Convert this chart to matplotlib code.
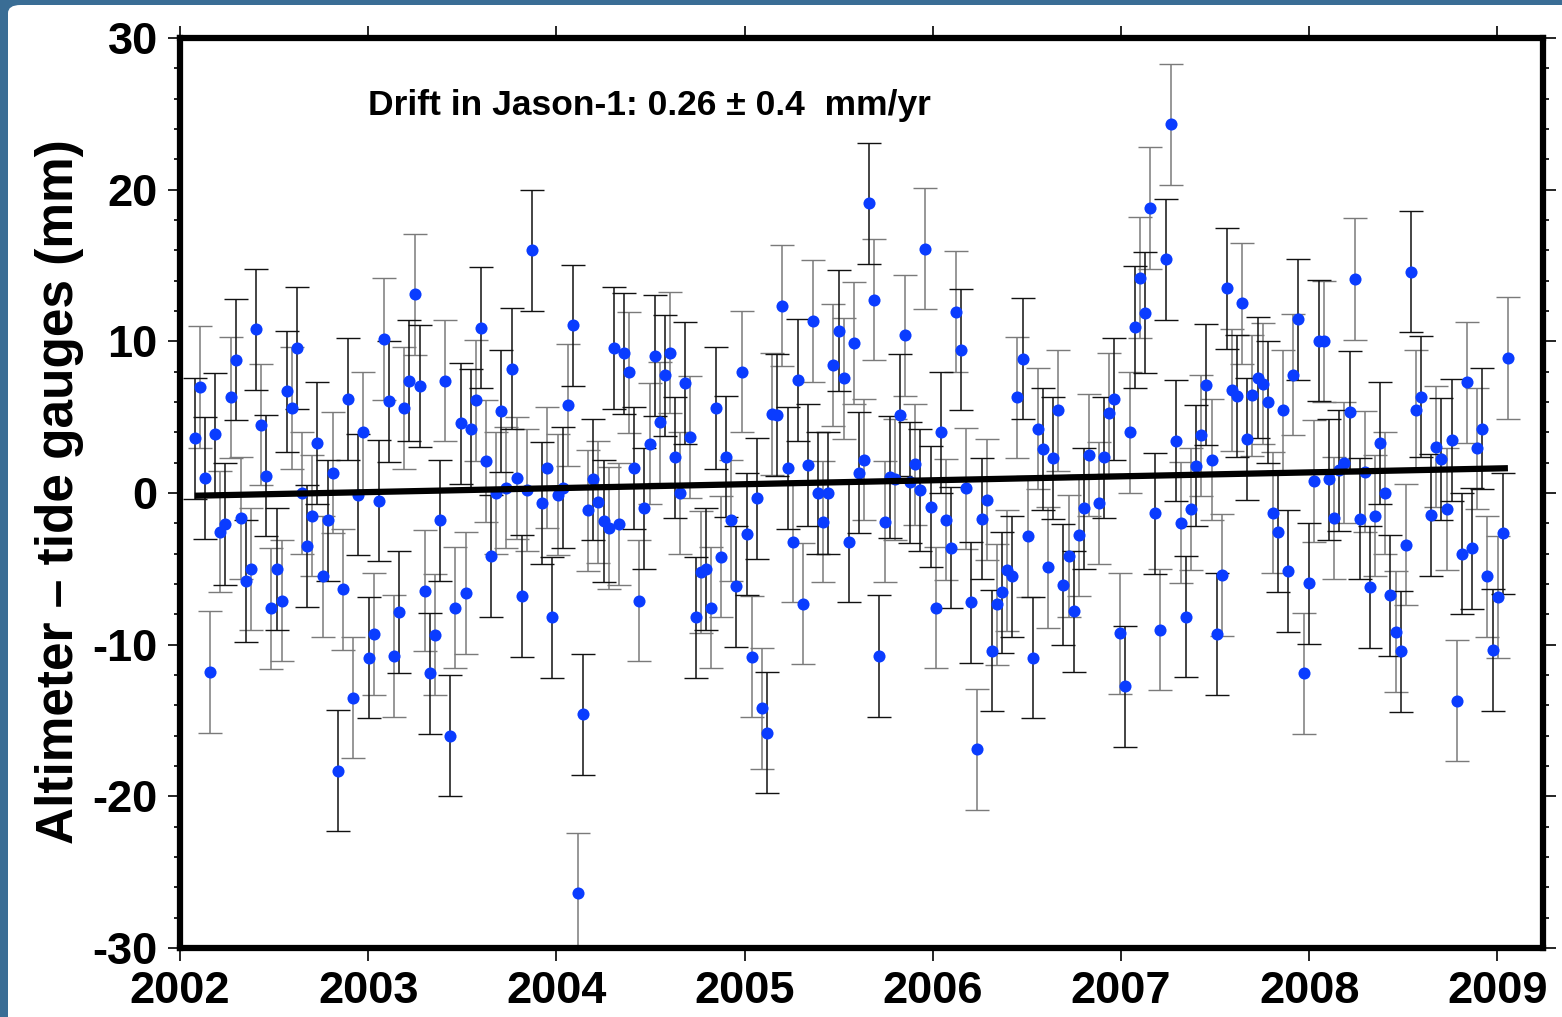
import matplotlib
matplotlib.use('Agg')
import matplotlib.pyplot as plt
import numpy as np
from matplotlib.patches import FancyBboxPatch
from matplotlib.ticker import MultipleLocator

# ---------------- data ----------------
# Jason-1 cycle numbers, four runs separated by missing cycles
cycles_a = list(range(2, 69))      # cycles 2..68
cycles_b = list(range(70, 178))    # cycles 70..177
cycles_c = list(range(179, 243))   # cycles 179..242
cycles_d = list(range(244, 260))   # cycles 244..259

# altimeter minus tide gauge differences (mm)
anom_a = [3.6, 7.0, 1.0, -11.8, 3.9, -2.55, -2.05, 6.3, 8.8, -1.65, -5.8, -5.0,
          10.8, 4.5, 1.15, -7.6, -5.0, -7.1, 6.7, 5.6, 9.55, 0.0, -3.5, -1.5,
          3.3, -5.5, -1.8, 1.35, -18.3, -6.35, 6.2, -13.5, -0.1, 4.0, -10.85,
          -9.3, -0.5,
          10.15, 6.05, -10.75, -7.85, 5.6, 7.4, 13.1, 7.05, -6.45, -11.9, -9.35,
          -1.8, 7.4, -16.0, -7.55, 4.6, -6.6, 4.2, 6.1, 10.9, 2.1, -4.15, 0.0,
          5.4, 0.35, 8.2, 1.0, -6.8, 0.2, 16.0]
anom_b = [-0.65, 1.68, -8.2, -0.1, 0.35, 5.8, 11.05, -26.4, -14.6, -1.15, 0.9, -0.6,
          -1.85, -2.3, 9.55, -2.05, 9.2, 7.95, 1.65, -7.1, -1.0, 3.25, 9.05, 4.65,
          7.75, 9.25, 2.35, 0.0, 7.25, 3.7, -8.2, -5.2, -5.0, -7.55, 5.6, -4.2,
          2.4, -1.8, -6.15, 8.0, -2.7, -10.8, -0.35,
          -14.2, -15.8, 5.2, 5.15, 12.35, 1.65, -3.2, 7.45, -7.3, 1.85, 11.35, 0.0,
          -1.9, 0.0, 8.45, 10.7, 7.55, -3.2, 9.9, 1.35, 2.2, 19.1, 12.75, -10.75,
          -1.9, 1.05, 0.9, 5.15, 10.4, 0.7, 1.9, 0.2, 16.1, -0.9, -7.55, 4.0, -1.75,
          -3.6, 11.95, 9.45, 0.3, -7.2, -16.9, -1.7, -0.45, -10.4, -7.35, -6.55,
          -5.1, -5.5, 6.3, 8.85, -2.85, -10.85, 4.25, 2.9, -4.9, 2.3, 5.45, -6.05,
          -4.15, -7.8, -2.8, -1.0, 2.5]
anom_c = [-0.65, 2.35, 5.25, 6.2, -9.25, -12.75, 4.0, 10.95, 14.2, 11.9, 18.8,
          -1.35, -9.0, 15.4, 24.3, 3.45, -1.95, -8.15, -1.05, 1.8, 3.8, 7.15, 2.2,
          -9.3, -5.4, 13.5, 6.8, 6.4, 12.5, 3.55, 6.45, 7.6, 7.2, 6.0, -1.3, -2.55,
          5.45, -5.15, 7.8, 11.45, -11.9, -5.95, 0.8, 10.05, 10.0, 0.9, -1.65, 1.5,
          2.0, 5.35, 14.1, -1.7, 1.4, -6.2, -1.5, 3.3, 0.0, -6.75, -9.15, -10.45,
          -3.4, 14.6, 5.45, 6.35]
anom_d = [-1.45, 3.05, 2.25, -1.05, 3.5, -13.7, -4.0, 7.3, -3.65, 2.95, 4.25,
          -5.5, -10.35, -6.85, -2.65, 8.9]

err_mm = 4.0                 # error bar half-width (mm)
drift_mm_yr = 0.26           # fitted drift
trend_start_mm = -0.18       # trend value at first cycle

cycle1_start = 2002.038      # 15 Jan 2002, decimal year
cycle_len_yr = 9.9156 / 365.25

xticks = [2002, 2003, 2004, 2005, 2006, 2007, 2008, 2009]
yticks = [-30, -20, -10, 0, 10, 20, 30]
annotation = "Drift in Jason-1: 0.26 \u00b1 0.4  mm/yr"
ylabel = "Altimeter \u2013 tide gauges (mm)"

# ---------------- derived ----------------
cycles = np.array(cycles_a + cycles_b + cycles_c + cycles_d)
anom = np.array(anom_a + anom_b + anom_c + anom_d)
t = cycle1_start + (cycles - 0.5) * cycle_len_yr

# ---------------- figure ----------------
plt.rcParams['font.family'] = ['Liberation Sans', 'DejaVu Sans']
plt.rcParams['axes.unicode_minus'] = False
W, H = 1562, 1017
fig = plt.figure(figsize=(W / 100, H / 100), dpi=100)
fig.patch.set_facecolor('#3a6d95')
bg = FancyBboxPatch((8 / W, -0.05), 1.05, 1 - 5 / H + 0.05,
                    boxstyle="round,pad=0,rounding_size=0.008",
                    transform=fig.transFigure, facecolor='white',
                    edgecolor='none', zorder=-10)
fig.patches.append(bg)

ax = fig.add_axes([180 / W, 1 - 948 / H, (1543 - 180) / W, (948 - 38) / H])
ax.set_xlim(2002, 2009.242)
ax.set_ylim(-30, 30)

odd = cycles % 2 == 1
for mask, col in ((odd, '#7a7a7a'), (~odd, '#111111')):
    ax.errorbar(t[mask], anom[mask], yerr=err_mm, fmt='none', ecolor=col,
                elinewidth=1.1, capsize=8.5, capthick=1.0, zorder=2)
ax.plot(t, anom, 'o', color='#0a3cff', markersize=8.7, markeredgewidth=0,
        zorder=3)

tt = np.array([t[0], t[-1]])
ax.plot(tt, trend_start_mm + drift_mm_yr * (tt - t[0]), color='black',
        lw=4.5, solid_capstyle='butt', zorder=4)

ax.text(2003.0, 24.95, annotation, fontsize=25.5, fontweight='bold',
        ha='left', va='baseline')

for s in ax.spines.values():
    s.set_linewidth(4.5)
ax.set_xticks(xticks)
ax.set_yticks(yticks)
ax.yaxis.set_minor_locator(MultipleLocator(2))
ax.tick_params(axis='both', which='major', direction='out', length=9, width=1.2,
               labelsize=32.5, top=True, right=True)
ax.tick_params(axis='y', which='minor', direction='out', length=4.5, width=1.2,
               left=True, right=True)
ax.tick_params(axis='x', pad=7.5)
ax.tick_params(axis='y', pad=7)
for lab in ax.get_xticklabels() + ax.get_yticklabels():
    lab.set_fontweight('bold')

fig.text(60 / W, 1 - 492 / H, ylabel, rotation=90, fontsize=37,
         fontweight='bold', ha='center', va='center')

fig.savefig('out.png', dpi=100, facecolor=fig.get_facecolor())
